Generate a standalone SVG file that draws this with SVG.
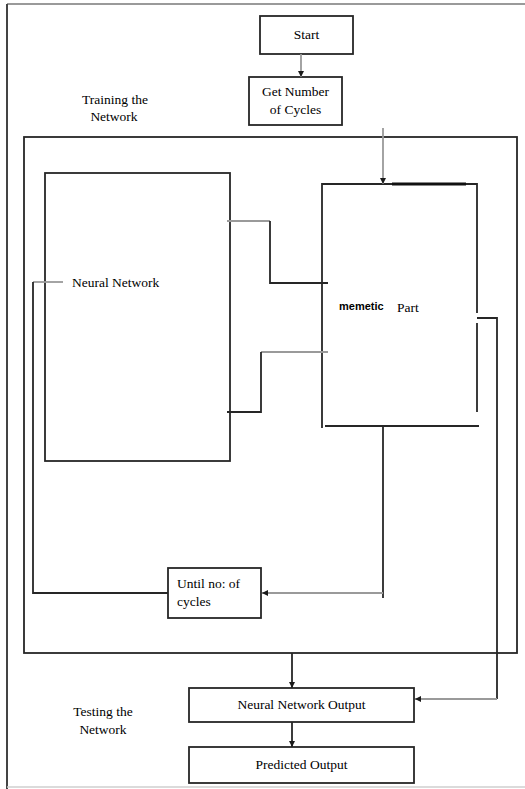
<svg xmlns="http://www.w3.org/2000/svg" width="525" height="789" viewBox="0 0 525 789">
<style>
.box{fill:#fff;stroke:#262626;stroke-width:1.8}
.dk{fill:none;stroke:#262626;stroke-width:1.8}
.gr{fill:none;stroke:#9a9a9a;stroke-width:1.8}
.t{font-family:"Liberation Serif","Times New Roman",serif;font-size:13.5px;fill:#000}
.m{font-family:"Liberation Sans",Arial,sans-serif;font-size:11px;font-weight:bold;fill:#000}
</style>
<defs>
<marker id="ah" viewBox="0 0 10 10" refX="10" refY="5" markerWidth="6" markerHeight="6" markerUnits="userSpaceOnUse" orient="auto">
<path d="M0,0 L10,5 L0,10 z" fill="#1a1a1a"/>
</marker>
</defs>
<rect width="525" height="789" fill="#fff"/>
<g id="frame">
<line x1="7" y1="4" x2="525" y2="4" stroke="#9a9a9a" stroke-width="2"/>
<line x1="7" y1="4" x2="7" y2="789" stroke="#444" stroke-width="2"/>
<line x1="7" y1="787" x2="525" y2="787" stroke="#cfcfcf" stroke-width="1.5"/>
</g>
<g id="training-area">
<rect class="box" x="24" y="137" width="493" height="516" fill="none"/>
</g>
<g id="training-label">
<text class="t" x="115" y="104" text-anchor="middle">Training the</text>
<text class="t" x="114" y="121" text-anchor="middle">Network</text>
</g>
<g id="start">
<rect class="box" x="260" y="16" width="93" height="38"/>
<text class="t" x="306.5" y="39" text-anchor="middle">Start</text>
</g>
<g id="get-cycles">
<rect class="box" x="249" y="77" width="93" height="48"/>
<text class="t" x="295.5" y="96" text-anchor="middle">Get Number</text>
<text class="t" x="295.5" y="114" text-anchor="middle">of Cycles</text>
</g>
<g id="neural-network">
<rect class="box" x="45" y="173" width="185" height="288"/>
<text class="t" x="72" y="287">Neural Network</text>
</g>
<g id="memetic">
<path class="dk" d="M477,313 V184 H322 V428"/>
<path class="dk" d="M477,323 V412"/>
<line x1="392" y1="184" x2="466" y2="184" stroke="#111" stroke-width="3.2"/>
<line class="dk" x1="325" y1="426" x2="479" y2="426"/>
<text class="m" x="339" y="310">memetic</text>
<text class="t" x="397" y="312">Part</text>
</g>
<g id="until">
<rect class="box" x="168" y="568" width="93" height="50"/>
<text class="t" x="177" y="588">Until no: of</text>
<text class="t" x="177" y="606">cycles</text>
</g>
<g id="nn-output">
<rect class="box" x="189" y="688" width="225" height="34"/>
<text class="t" x="301.5" y="709" text-anchor="middle">Neural Network Output</text>
</g>
<g id="predicted">
<rect class="box" x="189" y="747" width="225" height="36"/>
<text class="t" x="301.5" y="769" text-anchor="middle">Predicted Output</text>
</g>
<g id="testing-label">
<text class="t" x="103" y="716" text-anchor="middle">Testing the</text>
<text class="t" x="103" y="734" text-anchor="middle">Network</text>
</g>
<g id="connectors">
<line class="gr" x1="301" y1="54" x2="301" y2="77" marker-end="url(#ah)"/>
<line class="gr" x1="383" y1="128" x2="383" y2="184" marker-end="url(#ah)"/>
<line class="gr" x1="227" y1="221" x2="270" y2="221"/>
<path class="dk" d="M270,221 V283 H328"/>
<line class="gr" x1="261" y1="352" x2="328" y2="352"/>
<path class="dk" d="M261,352 V412 H227"/>
<line class="dk" x1="383" y1="426" x2="383" y2="598"/>
<line class="gr" x1="383" y1="593" x2="262" y2="593" marker-end="url(#ah)"/>
<line class="gr" x1="33" y1="282" x2="63" y2="282"/>
<path class="dk" d="M33,282 V593 H168"/>
<path class="dk" d="M477,318 H497 V699"/>
<line class="gr" x1="497" y1="699" x2="415" y2="699" marker-end="url(#ah)"/>
<line class="dk" x1="292" y1="653" x2="292" y2="688" marker-end="url(#ah)"/>
<line class="dk" x1="292" y1="722" x2="292" y2="747" marker-end="url(#ah)"/>
</g>
</svg>
